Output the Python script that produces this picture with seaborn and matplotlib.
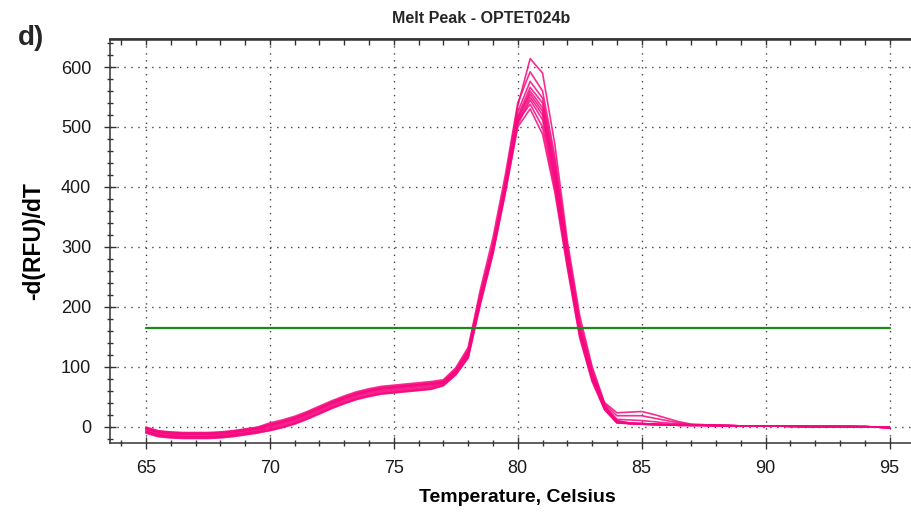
import matplotlib
matplotlib.use("Agg")
import matplotlib.pyplot as plt
from matplotlib.ticker import MultipleLocator
import seaborn as sns
import pandas as pd
import numpy as np

# temperaturas de lectura (paso de 0.5 C)
temps = np.arange(65.0, 95.01, 0.5)

# -d(RFU)/dT por pocillo
pocillo_01 = [-3, -9, -11, -12, -12, -12, -11, -9, -6, -3, 4, 9, 15, 23, 32, 41, 49, 56, 61, 65, 67, 69, 71, 73,
              76, 95, 128, 222, 305, 410, 535, 614, 590, 470, 310, 185, 100, 40, 23,
              24, 25, 20, 14, 8, 4, 3, 2, 2, 1, 1, 1, 1, 1, 0, 0, 0, 0, 0, 0, -1, -2]
pocillo_02 = [-1, -7, -9, -10, -10, -10, -9, -7, -4, -1, 6, 11, 17, 25, 34, 43, 51, 58, 63, 67, 69, 71, 73, 75,
              78, 98, 132, 230, 315, 420, 540, 592, 560, 450, 300, 175, 95, 38, 18,
              18, 18, 14, 10, 6, 3, 3, 2, 2, 1, 1, 1, 1, 1, 0, 0, 0, 0, 0, -1, -1, -2]
pocillo_03 = [-5, -11, -13, -14, -14, -14, -13, -11, -8, -5, 1, 6, 12, 20, 29, 38, 46, 53, 58, 62, 64, 66, 68, 70,
              74, 93, 125, 218, 300, 405, 525, 576, 548, 440, 295, 170, 90, 36, 12,
              11, 10, 8, 6, 4, 3, 2, 2, 2, 1, 1, 1, 1, 1, 1, 0, 0, 0, 0, 0, -1, -1]
pocillo_04 = [-7, -13, -15, -16, -16, -16, -15, -13, -10, -7, -1, 4, 10, 18, 27, 36, 44, 51, 56, 60, 62, 64, 66, 68,
              73, 91, 122, 215, 298, 400, 518, 566, 540, 432, 290, 165, 88, 34, 10,
              6, 5, 4, 3, 3, 2, 2, 2, 1, 1, 1, 1, 1, 0, 0, 0, 0, 0, 0, -1, -1, -2]
pocillo_05 = [-8, -14, -16, -17, -17, -17, -16, -14, -11, -8, -3, 2, 8, 16, 25, 34, 42, 49, 54, 58, 60, 62, 64, 66,
              72, 90, 120, 212, 295, 398, 512, 560, 532, 425, 285, 162, 85, 33, 9,
              6, 5, 4, 3, 3, 2, 2, 2, 1, 1, 1, 1, 1, 1, 0, 0, 0, 0, 0, 0, -1, -2]
pocillo_06 = [-2, -8, -10, -11, -11, -11, -10, -8, -5, -2, 3, 8, 14, 22, 31, 40, 48, 55, 60, 64, 66, 68, 70, 72,
              75, 94, 126, 220, 302, 405, 515, 555, 526, 418, 282, 160, 84, 32, 8,
              5, 5, 4, 3, 2, 2, 2, 2, 1, 1, 1, 1, 1, 0, 0, 0, 0, 0, 0, -1, -1, -2]
pocillo_07 = [-9, -15, -17, -18, -18, -18, -17, -15, -12, -9, -5, 0, 6, 14, 23, 32, 40, 47, 52, 56, 58, 60, 62, 64,
              70, 88, 118, 210, 292, 395, 508, 550, 520, 412, 278, 158, 82, 31, 8,
              5, 4, 4, 3, 3, 2, 2, 1, 1, 1, 1, 1, 1, 1, 0, 0, 0, 0, 0, 0, -1, -1]
pocillo_08 = [-11, -17, -19, -20, -20, -20, -19, -17, -14, -11, -6, -1, 5, 13, 22, 31, 39, 46, 51, 55, 57, 59, 61, 63,
              69, 87, 116, 208, 290, 392, 504, 545, 512, 405, 275, 155, 80, 30, 7,
              5, 4, 3, 3, 2, 2, 2, 1, 1, 1, 1, 1, 1, 0, 0, 0, 0, 0, -1, -1, -1, -2]
pocillo_09 = [-4, -10, -12, -13, -13, -13, -12, -10, -7, -4, 2, 7, 13, 21, 30, 39, 47, 54, 59, 63, 65, 67, 69, 71,
              73, 92, 122, 215, 298, 400, 510, 538, 500, 398, 270, 152, 78, 29, 6,
              5, 4, 3, 3, 2, 2, 2, 2, 1, 1, 1, 1, 1, 1, 0, 0, 0, 0, 0, 0, -1, -2]
pocillo_10 = [-10, -16, -18, -19, -19, -19, -18, -16, -13, -10, -7, -2, 4, 12, 21, 30, 38, 45, 50, 54, 56, 58, 60, 62,
              68, 86, 114, 205, 288, 390, 500, 530, 488, 390, 265, 148, 75, 28, 6,
              5, 4, 3, 3, 2, 2, 2, 1, 1, 1, 1, 1, 1, 0, 0, 0, 0, 0, 0, -1, -1, -2]

pocillos = [pocillo_01, pocillo_02, pocillo_03, pocillo_04, pocillo_05,
            pocillo_06, pocillo_07, pocillo_08, pocillo_09, pocillo_10]

umbral = 165  # linea de umbral verde

# armamos el DataFrame en formato largo
filas = []
for i, valores in enumerate(pocillos):
    for t, v in zip(temps, valores):
        filas.append({"pocillo": i, "temp": t, "valor": v})
datos = pd.DataFrame(filas)

sns.set_theme(style="white")
plt.rcParams['font.family'] = ['Liberation Sans', 'DejaVu Sans']

fig = plt.figure(figsize=(9.11, 5.12), dpi=100)
ax = fig.add_axes([110 / 911, 1 - 443 / 512, 815.5 / 911, 403.5 / 512])

sns.lineplot(data=datos, x="temp", y="valor", units="pocillo", estimator=None,
             color="#f7077f", lw=1.2, alpha=0.85, ax=ax, legend=False)
ax.plot([temps[0], temps[-1]], [umbral, umbral], color="#1a8a1a", lw=1.6)

ax.set_xlim(63.55, 96.45)
ax.set_ylim(-27.5, 645.9)

ax.xaxis.set_major_locator(MultipleLocator(5))
ax.xaxis.set_minor_locator(MultipleLocator(1))
ax.yaxis.set_major_locator(MultipleLocator(100))
ax.yaxis.set_minor_locator(MultipleLocator(20))

ax.grid(True, which="major", linestyle=(0, (1, 4)), color="#444444", lw=1.0)

for lado in ["left", "bottom", "top"]:
    ax.spines[lado].set_color("#333333")
    ax.spines[lado].set_linewidth(1.1)
ax.spines["right"].set_visible(False)

ax.tick_params(which="major", direction="inout", length=9, width=1.0, color="#333333",
               labelsize=13, labelcolor="#1a1a1a", bottom=True, left=True)
ax.tick_params(which="minor", direction="inout", length=5, width=1.0, color="#333333",
               bottom=True, left=True)
ax.tick_params(axis="x", which="major", pad=8)
ax.tick_params(axis="y", which="major", pad=9)

# marcas hacia adentro en el borde superior
arriba = ax.secondary_xaxis("top")
arriba.xaxis.set_major_locator(MultipleLocator(5))
arriba.xaxis.set_minor_locator(MultipleLocator(1))
arriba.tick_params(which="both", direction="in", length=4, width=1.0, color="#333333",
                   labeltop=False)

ax.set_xlabel("Temperature, Celsius", fontsize=14, fontweight="bold", color="black")
ax.set_ylabel("-d(RFU)/dT", fontsize=16.5, fontweight="bold", color="black")
ax.xaxis.set_label_coords(0.5, -0.115)
ax.yaxis.set_label_coords(-0.08, 0.5)

fig.text(481.6 / 911, 1 - 18.3 / 512, "Melt Peak - OPTET024b", ha="center", va="center",
         fontsize=11.5, fontweight="bold")
fig.text(18 / 911, 1 - 45 / 512, "d)", ha="left", va="baseline", fontsize=20, fontweight="bold")

fig.savefig("out.png", dpi=100)
